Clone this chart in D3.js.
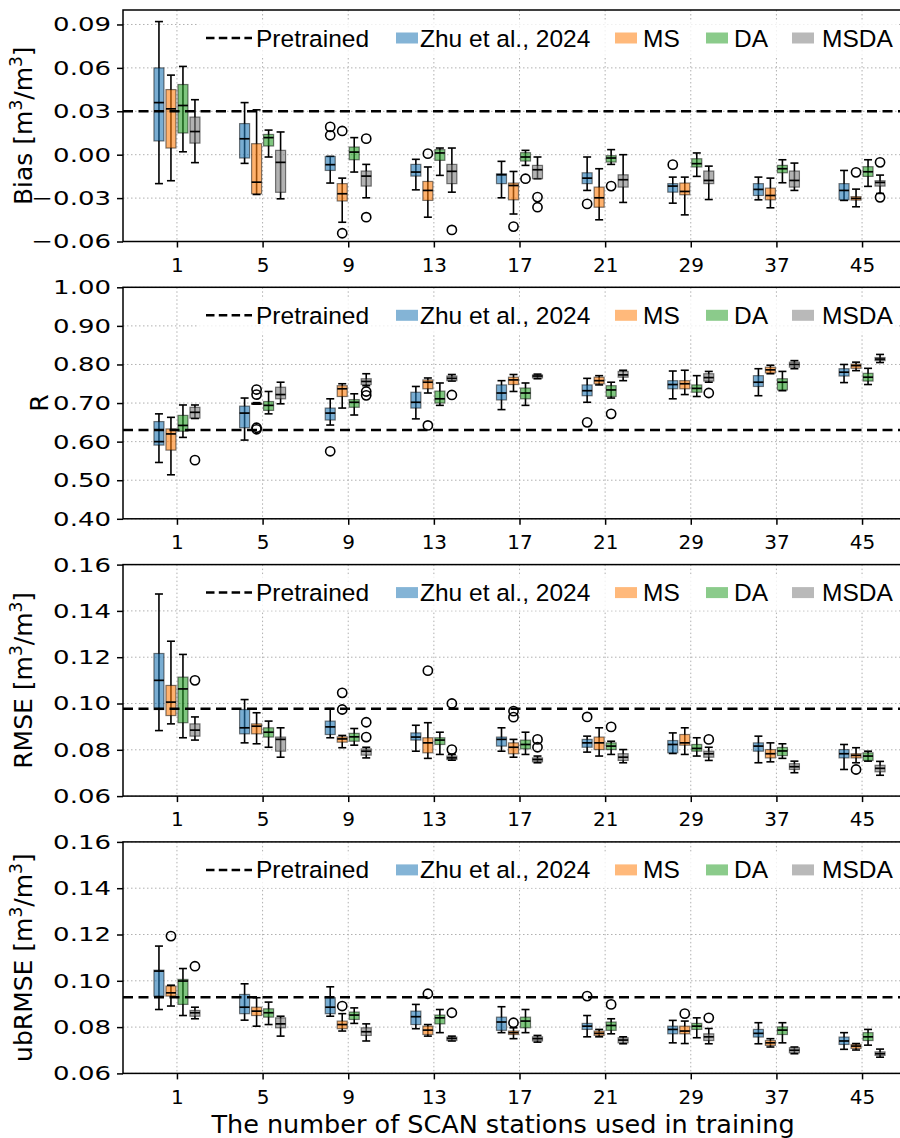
<!DOCTYPE html>
<html>
<head>
<meta charset="utf-8">
<script src="https://cdn.jsdelivr.net/npm/d3@7"></script>
<style>
  body { margin: 0; background: #fff; }
  svg { display: block; }
</style>
</head>
<body>
<div id="chart"></div>
<script>
// ---- data: each row is [whisker low, q1, median, q3, whisker high] for one group ----
const groups = ["1", "5", "9", "13", "17", "21", "29", "37", "45"];
const seriesNames = ["Zhu et al., 2024", "MS", "DA", "MSDA"];

const biasZhu = [[-0.020, 0.0095, 0.036, 0.060, 0.092], [-0.006, -0.0023, 0.011, 0.0215, 0.036], [-0.0196, -0.0109, -0.0069, -0.0012, -0.0012], [-0.0243, -0.0148, -0.012, -0.0067, -0.0032], [-0.0298, -0.020, -0.0139, -0.0132, -0.0046], [-0.0247, -0.020, -0.0162, -0.0125, -0.0016], [-0.0335, -0.0259, -0.0217, -0.020, -0.0155], [-0.0312, -0.0282, -0.024, -0.020, -0.0155], [-0.0316, -0.0312, -0.0247, -0.020, -0.0109]];
const biasMS = [[-0.018, 0.0046, 0.0317, 0.045, 0.055], [-0.0275, -0.027, -0.019, 0.0076, 0.031], [-0.0467, -0.032, -0.027, -0.020, -0.0162], [-0.0432, -0.0316, -0.0247, -0.0185, -0.0085], [-0.041, -0.0312, -0.0213, -0.0196, -0.0116], [-0.045, -0.0363, -0.0298, -0.0224, -0.0097], [-0.0416, -0.0277, -0.0254, -0.0196, -0.0155], [-0.0367, -0.0312, -0.0282, -0.0231, -0.0162], [-0.036, -0.0314, -0.0302, -0.029, -0.0238]];
const biasDA = [[0.002, 0.015, 0.034, 0.0485, 0.061], [-0.0016, 0.006, 0.0118, 0.014, 0.017], [-0.012, -0.0035, 0.0018, 0.0053, 0.0118], [-0.0143, -0.0039, 0.0012, 0.0035, 0.0046], [-0.0074, -0.0044, -0.0016, 0.0014, 0.003], [-0.0067, -0.0051, -0.0023, -0.0007, 0.0035], [-0.015, -0.0085, -0.0062, -0.0028, 0.0012], [-0.0194, -0.0125, -0.0097, -0.0074, -0.0035], [-0.0219, -0.015, -0.0118, -0.0083, -0.0035]];
const biasMSDA = [[-0.0055, 0.008, 0.016, 0.026, 0.038], [-0.0305, -0.026, -0.0053, 0.003, 0.0157], [-0.0298, -0.0217, -0.0148, -0.0113, -0.0067], [-0.0259, -0.020, -0.0115, -0.0067, 0.0046], [-0.0166, -0.0166, -0.0104, -0.0074, -0.0016], [-0.033, -0.0224, -0.0173, -0.0139, 0.000], [-0.031, -0.020, -0.0178, -0.0113, -0.0079], [-0.0247, -0.0224, -0.0178, -0.0113, -0.0058], [-0.0268, -0.0217, -0.0192, -0.018, -0.0141]];
const biasZhuOut = [[], [], [0.0192, 0.0134], [], [], [-0.034], [-0.0069], [], []];
const biasMSOut = [[], [], [0.0164, -0.0543], [0.0007], [-0.0497], [], [], [], [-0.0122]];
const biasDAOut = [[], [], [], [], [-0.0166], [-0.0217], [], [], []];
const biasMSDAOut = [[], [], [0.0111, -0.0432], [-0.052], [-0.0293, -0.0363], [], [], [], [-0.0053, -0.0295]];

const rZhu = [[0.546, 0.591, 0.600, 0.652, 0.672], [0.604, 0.636, 0.674, 0.692, 0.713], [0.643, 0.656, 0.674, 0.687, 0.711], [0.659, 0.687, 0.702, 0.728, 0.743], [0.683, 0.708, 0.726, 0.747, 0.758], [0.702, 0.719, 0.732, 0.747, 0.764], [0.711, 0.737, 0.748, 0.758, 0.783], [0.719, 0.743, 0.754, 0.771, 0.789], [0.753, 0.770, 0.780, 0.789, 0.800]];
const rMS = [[0.514, 0.578, 0.620, 0.633, 0.663], [0.697, 0.697, 0.698, 0.700, 0.701], [0.687, 0.717, 0.737, 0.745, 0.750], [0.726, 0.737, 0.754, 0.760, 0.765], [0.730, 0.748, 0.760, 0.767, 0.774], [0.747, 0.750, 0.758, 0.767, 0.771], [0.722, 0.737, 0.750, 0.758, 0.785], [0.776, 0.778, 0.786, 0.793, 0.798], [0.784, 0.790, 0.797, 0.801, 0.806]];
const rDA = [[0.611, 0.627, 0.642, 0.668, 0.695], [0.672, 0.681, 0.694, 0.704, 0.730], [0.669, 0.689, 0.702, 0.709, 0.724], [0.694, 0.700, 0.711, 0.731, 0.752], [0.694, 0.711, 0.726, 0.739, 0.752], [0.713, 0.717, 0.734, 0.745, 0.754], [0.717, 0.728, 0.738, 0.747, 0.771], [0.732, 0.734, 0.754, 0.763, 0.782], [0.748, 0.757, 0.767, 0.777, 0.790]];
const rMSDA = [[0.660, 0.661, 0.676, 0.689, 0.695], [0.698, 0.711, 0.722, 0.741, 0.754], [0.745, 0.748, 0.756, 0.763, 0.776], [0.757, 0.758, 0.764, 0.770, 0.774], [0.763, 0.765, 0.770, 0.773, 0.775], [0.758, 0.767, 0.773, 0.782, 0.785], [0.754, 0.757, 0.766, 0.776, 0.782], [0.789, 0.793, 0.800, 0.806, 0.810], [0.805, 0.810, 0.814, 0.818, 0.826]];
const rZhuOut = [[], [], [0.575], [], [], [0.650], [], [], []];
const rMSOut = [[], [0.735, 0.722, 0.636, 0.632], [], [0.642], [], [], [], [], []];
const rDAOut = [[], [], [], [], [], [0.672], [], [], []];
const rMSDAOut = [[0.552], [], [0.730, 0.720], [0.721], [], [], [0.726], [], []];

const rmseZhu = [[0.0883, 0.0974, 0.110, 0.1216, 0.1473], [0.083, 0.0869, 0.0895, 0.0974, 0.1017], [0.0852, 0.0866, 0.0899, 0.0924, 0.0978], [0.0794, 0.0842, 0.0855, 0.0873, 0.0906], [0.0794, 0.0816, 0.0845, 0.0855, 0.0895], [0.079, 0.0811, 0.083, 0.0845, 0.0859], [0.0784, 0.0787, 0.0823, 0.084, 0.0873], [0.0744, 0.0794, 0.0816, 0.083, 0.0859], [0.0715, 0.0765, 0.0783, 0.0801, 0.0823]];
const rmseMS = [[0.0912, 0.0948, 0.1006, 0.1078, 0.1269], [0.0826, 0.0869, 0.0902, 0.0912, 0.096], [0.0809, 0.0833, 0.0847, 0.0856, 0.0862], [0.0763, 0.0787, 0.083, 0.0852, 0.0917], [0.0768, 0.0783, 0.0811, 0.083, 0.0845], [0.0773, 0.0801, 0.083, 0.0855, 0.0895], [0.078, 0.082, 0.083, 0.0866, 0.0895], [0.0748, 0.0765, 0.0783, 0.0801, 0.083], [0.0744, 0.0765, 0.0776, 0.0783, 0.0809]];
const rmseDA = [[0.0852, 0.0917, 0.1063, 0.1114, 0.1212], [0.0811, 0.0855, 0.0876, 0.0895, 0.0924], [0.082, 0.0837, 0.0856, 0.0871, 0.0892], [0.078, 0.0823, 0.0842, 0.0852, 0.0876], [0.078, 0.0804, 0.0823, 0.0842, 0.0876], [0.078, 0.0801, 0.0816, 0.083, 0.0837], [0.0773, 0.0794, 0.0806, 0.0823, 0.0852], [0.0763, 0.0775, 0.0795, 0.081, 0.0826], [0.0751, 0.0754, 0.0773, 0.0787, 0.0794]];
const rmseMSDA = [[0.0842, 0.0859, 0.0885, 0.0912, 0.0942], [0.0768, 0.0794, 0.0845, 0.0855, 0.0895], [0.0765, 0.0777, 0.0794, 0.0804, 0.0811], [0.0755, 0.0758, 0.0765, 0.0773, 0.078], [0.0744, 0.0748, 0.0758, 0.0765, 0.0773], [0.0744, 0.0754, 0.0768, 0.0783, 0.0801], [0.0754, 0.0768, 0.0783, 0.0794, 0.0811], [0.0701, 0.0715, 0.0727, 0.074, 0.0751], [0.069, 0.0705, 0.072, 0.0733, 0.075]];
const rmseZhuOut = [[], [], [], [], [], [0.0942], [], [], []];
const rmseMSOut = [[], [], [0.1046, 0.0974], [0.1142], [0.0967, 0.0941], [], [], [], [0.0715]];
const rmseDAOut = [[], [], [], [], [], [0.0899], [], [], []];
const rmseMSDAOut = [[0.110], [], [0.0919, 0.0855], [0.100, 0.0801], [0.0845, 0.0811], [], [0.0845], [], []];

const ubZhu = [[0.0876, 0.0934, 0.1042, 0.1046, 0.115], [0.083, 0.0858, 0.0886, 0.0941, 0.0987], [0.0847, 0.0858, 0.0886, 0.0927, 0.0974], [0.0793, 0.0811, 0.0845, 0.0869, 0.0898], [0.0776, 0.0786, 0.0822, 0.0843, 0.0888], [0.0758, 0.079, 0.0804, 0.0816, 0.085], [0.0732, 0.0771, 0.079, 0.0804, 0.0829], [0.0728, 0.0757, 0.0773, 0.079, 0.0819], [0.0704, 0.0725, 0.074, 0.0757, 0.0776]];
const ubMS = [[0.0891, 0.0934, 0.0948, 0.0977, 0.0981], [0.0804, 0.085, 0.0869, 0.0886, 0.0927], [0.0783, 0.0793, 0.0811, 0.0826, 0.0858], [0.0761, 0.0768, 0.0787, 0.0804, 0.0811], [0.075, 0.0768, 0.0776, 0.0783, 0.0797], [0.0758, 0.0764, 0.0773, 0.0783, 0.079], [0.0729, 0.0771, 0.0783, 0.0804, 0.0826], [0.0714, 0.0721, 0.0732, 0.0742, 0.075], [0.0701, 0.0708, 0.0718, 0.0725, 0.0729]];
const ubDA = [[0.085, 0.0898, 0.0999, 0.1006, 0.1053], [0.0811, 0.0843, 0.0862, 0.0879, 0.0908], [0.0816, 0.0833, 0.0852, 0.0865, 0.0883], [0.0776, 0.0814, 0.084, 0.0852, 0.0876], [0.0776, 0.0797, 0.0826, 0.0843, 0.0876], [0.0771, 0.0786, 0.0807, 0.0822, 0.0836], [0.0754, 0.079, 0.0804, 0.0816, 0.084], [0.0732, 0.0768, 0.0787, 0.0801, 0.0819], [0.0722, 0.0742, 0.0758, 0.0776, 0.079]];
const ubMSDA = [[0.0836, 0.0847, 0.0862, 0.0872, 0.0886], [0.0761, 0.0797, 0.0814, 0.084, 0.0847], [0.074, 0.0764, 0.078, 0.0797, 0.0814], [0.074, 0.0742, 0.0751, 0.0757, 0.0761], [0.0735, 0.074, 0.075, 0.0758, 0.0764], [0.0728, 0.0732, 0.0744, 0.0754, 0.0758], [0.0728, 0.0742, 0.0758, 0.0771, 0.0794], [0.0685, 0.0689, 0.07, 0.0711, 0.0714], [0.067, 0.0678, 0.0685, 0.0693, 0.0705]];
const ubZhuOut = [[], [], [], [], [], [0.0934], [], [], []];
const ubMSOut = [[0.1193], [], [0.0891], [0.0944], [0.0819], [], [0.0858], [], []];
const ubDAOut = [[], [], [], [], [], [0.0898], [], [], []];
const ubMSDAOut = [[0.1063], [], [], [0.0862], [], [], [0.084], [], []];

// pretrained reference value per metric
const pretrained = [0.030, 0.630, 0.0977, 0.0929];

const yDomains = [[-0.06, 0.10], [0.40, 1.00], [0.06, 0.16], [0.06, 0.16]];
const yTicks = [
  [-0.06, -0.03, 0.00, 0.03, 0.06, 0.09],
  [0.40, 0.50, 0.60, 0.70, 0.80, 0.90, 1.00],
  [0.06, 0.08, 0.10, 0.12, 0.14, 0.16],
  [0.06, 0.08, 0.10, 0.12, 0.14, 0.16]
];
const yLabels = ["Bias", "R", "RMSE", "ubRMSE"];
const yLabelUnits = [true, false, true, true];

const panels = [
  {boxes: [biasZhu, biasMS, biasDA, biasMSDA], outliers: [biasZhuOut, biasMSOut, biasDAOut, biasMSDAOut]},
  {boxes: [rZhu, rMS, rDA, rMSDA], outliers: [rZhuOut, rMSOut, rDAOut, rMSDAOut]},
  {boxes: [rmseZhu, rmseMS, rmseDA, rmseMSDA], outliers: [rmseZhuOut, rmseMSOut, rmseDAOut, rmseMSDAOut]},
  {boxes: [ubZhu, ubMS, ubDA, ubMSDA], outliers: [ubZhuOut, ubMSOut, ubDAOut, ubMSDAOut]}
];

const colors = ["#1f77b4", "#ff7f0e", "#2ca02c", "#7f7f7f"];

// ---- layout ----
const width = 900, height = 1138;
const left = 123, right = 916;   // right frame falls outside the picture, as in the original crop
const panelTop = 10, panelH = 231.5, panelStep = 277.3;
const boxW = 10, capW = 8;
const tickStretch = 1.3;         // y tick labels are drawn wide in the source figure

const svg = d3.select("#chart").append("svg")
    .attr("width", width)
    .attr("height", height)
    .style("font-family", "'DejaVu Sans', sans-serif");

const x = d3.scalePoint().domain(groups).range([left, right]).padding(0.63);
const offset = d3.scaleBand().domain(seriesNames).range([-24, 24]);

panels.forEach((p, pi) => {
    const top = panelTop + pi * panelStep;
    const bottom = top + panelH;
    const y = d3.scaleLinear().domain(yDomains[pi]).range([bottom, top]);
    const g = svg.append("g");

    // grid
    g.append("g").selectAll("line").data(groups).join("line")
        .attr("x1", d => x(d)).attr("x2", d => x(d))
        .attr("y1", top).attr("y2", bottom)
        .attr("stroke", "#b0b0b0").attr("stroke-width", 1).attr("stroke-dasharray", "1.5,2.5");
    g.append("g").selectAll("line").data(yTicks[pi]).join("line")
        .attr("x1", left).attr("x2", right)
        .attr("y1", d => y(d)).attr("y2", d => y(d))
        .attr("stroke", "#b0b0b0").attr("stroke-width", 1).attr("stroke-dasharray", "1.5,2.5");

    // axes
    const ya = g.append("g").attr("transform", `translate(${left},0)`)
        .call(d3.axisLeft(y).tickValues(yTicks[pi]).tickFormat(d3.format(".2f")).tickSize(6).tickPadding(6));
    const xa = g.append("g").attr("transform", `translate(0,${bottom})`)
        .call(d3.axisBottom(x).tickSize(6).tickPadding(10));
    [ya, xa].forEach(a => {
        a.select(".domain").remove();
        a.selectAll(".tick line").attr("stroke", "#000").attr("stroke-width", 1.5);
        a.selectAll(".tick text").attr("fill", "#000").style("font-size", "20px")
            .style("font-family", "'DejaVu Sans', sans-serif");
    });
    ya.selectAll(".tick text")
        .attr("x", -12 / tickStretch)
        .attr("transform", `scale(${tickStretch},1)`);

    // boxes
    p.boxes.forEach((series, si) => {
        const sg = g.append("g");
        const cx = d => x(groups[d.i]) + offset(seriesNames[si]) + offset.bandwidth() / 2;
        const rows = series.map((s, i) => ({i, lo: s[0], q1: s[1], med: s[2], q3: s[3], hi: s[4]}));

        sg.selectAll(".wh").data(rows).join("line")
            .attr("x1", cx).attr("x2", cx)
            .attr("y1", d => y(d.hi)).attr("y2", d => y(d.lo))
            .attr("stroke", "#000").attr("stroke-width", 1.6);
        sg.selectAll(".cap").data(rows.flatMap(d => [{i: d.i, v: d.lo}, {i: d.i, v: d.hi}])).join("line")
            .attr("x1", d => cx(d) - capW / 2).attr("x2", d => cx(d) + capW / 2)
            .attr("y1", d => y(d.v)).attr("y2", d => y(d.v))
            .attr("stroke", "#000").attr("stroke-width", 1.6);
        sg.selectAll("rect").data(rows).join("rect")
            .attr("x", d => cx(d) - boxW / 2).attr("width", boxW)
            .attr("y", d => y(d.q3)).attr("height", d => Math.max(0.5, y(d.q1) - y(d.q3)))
            .attr("fill", colors[si]).attr("fill-opacity", 0.6)
            .attr("stroke", "#000").attr("stroke-opacity", 0.5).attr("stroke-width", 1.2);
        sg.selectAll(".med").data(rows).join("line")
            .attr("x1", d => cx(d) - boxW / 2).attr("x2", d => cx(d) + boxW / 2)
            .attr("y1", d => y(d.med)).attr("y2", d => y(d.med))
            .attr("stroke", "#000").attr("stroke-width", 1.7);
        const outs = p.outliers[si].flatMap((vals, i) => vals.map(v => ({i, v})));
        sg.selectAll("circle").data(outs).join("circle")
            .attr("cx", cx).attr("cy", d => y(d.v)).attr("r", 4.6)
            .attr("fill", "none").attr("stroke", "#000").attr("stroke-width", 1.6);
    });

    // pretrained line, drawn over the boxes
    g.append("line")
        .attr("x1", left).attr("x2", right)
        .attr("y1", y(pretrained[pi])).attr("y2", y(pretrained[pi]))
        .attr("stroke", "#000").attr("stroke-width", 2.5).attr("stroke-dasharray", "10,5.5");

    // frame
    g.append("rect")
        .attr("x", left).attr("y", top).attr("width", right - left).attr("height", panelH)
        .attr("fill", "none").attr("stroke", "#000").attr("stroke-width", 1.5);

    // legend
    const ly = top + 28;
    const lg = g.append("g").style("font-family", "'Liberation Sans', Arial, sans-serif").style("font-size", "24.5px");
    lg.append("rect").attr("x", 198).attr("y", ly - 18).attr("width", 700).attr("height", 36)
        .attr("fill", "#fff").attr("fill-opacity", 0.8);
    lg.append("line").attr("x1", 206).attr("x2", 252).attr("y1", ly).attr("y2", ly)
        .attr("stroke", "#000").attr("stroke-width", 2.5).attr("stroke-dasharray", "8.5,4.3");
    lg.append("text").attr("x", 256).attr("y", ly + 8.5).text("Pretrained");
    const patchX = [396, 615, 706, 792];
    const textX = [420, 643, 734, 822];
    seriesNames.forEach((name, si) => {
        lg.append("rect").attr("x", patchX[si]).attr("y", ly - 5.5).attr("width", 22).attr("height", 11)
            .attr("fill", colors[si]).attr("fill-opacity", 0.55);
        lg.append("text").attr("x", textX[si]).attr("y", ly + 8.5).text(name);
    });

    // y label
    const yl = svg.append("text")
        .attr("transform", `translate(${yLabelUnits[pi] ? 32 : 48},${top + panelH / 2}) rotate(-90)`)
        .attr("text-anchor", "middle")
        .style("font-size", "25px");
    yl.append("tspan").text(yLabels[pi]);
    if (yLabelUnits[pi]) {
        yl.append("tspan").text(" [m");
        yl.append("tspan").attr("baseline-shift", "super").style("font-size", "17px").text("3");
        yl.append("tspan").text("/m");
        yl.append("tspan").attr("baseline-shift", "super").style("font-size", "17px").text("3");
        yl.append("tspan").text("]");
    }
});

svg.append("text")
    .attr("x", 503).attr("y", 1133)
    .attr("text-anchor", "middle")
    .style("font-size", "25.5px")
    .text("The number of SCAN stations used in training");
</script>
</body>
</html>
